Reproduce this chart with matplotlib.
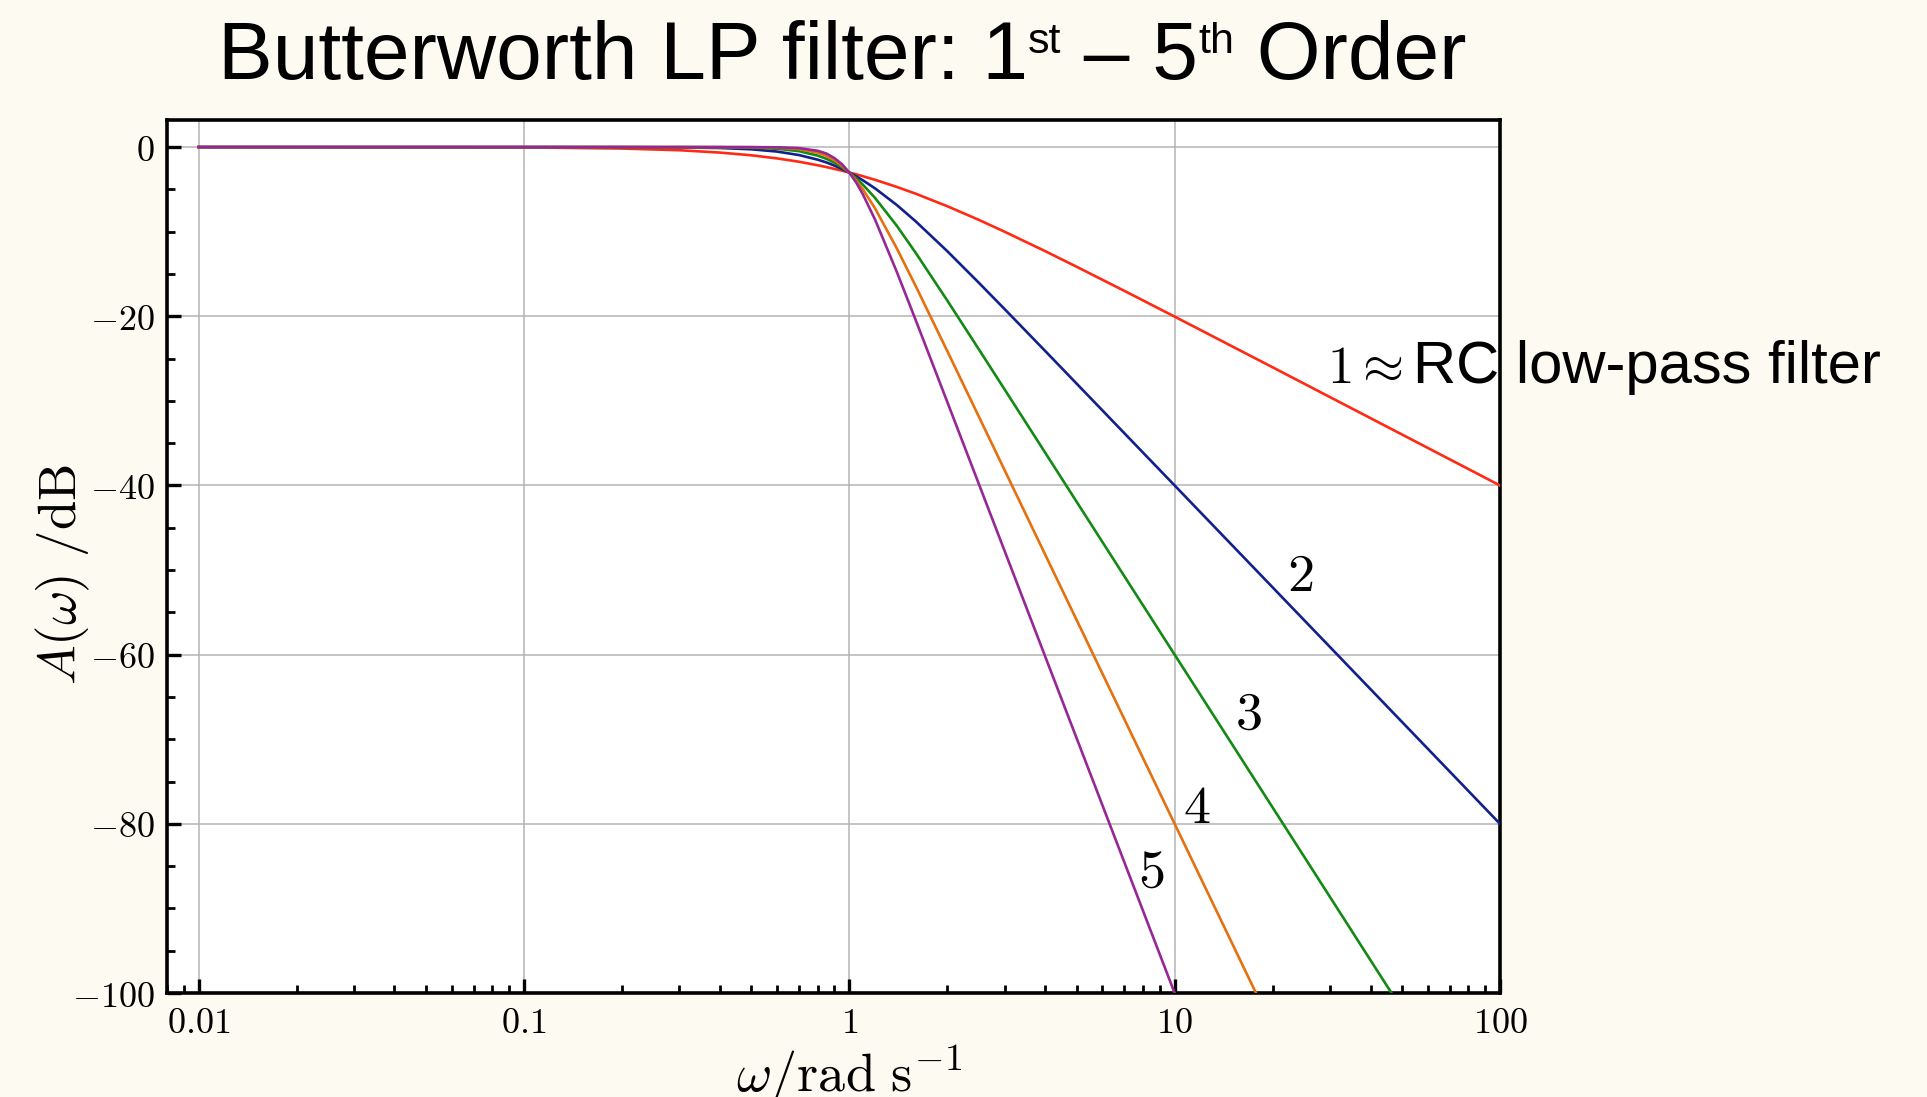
import numpy as np
import matplotlib
matplotlib.use("Agg")
import matplotlib.pyplot as plt
from matplotlib.ticker import FixedLocator, LogLocator, NullFormatter
from matplotlib.transforms import IdentityTransform

plt.rcParams["mathtext.fontset"] = "cm"
plt.rcParams["font.family"] = ["Liberation Sans", "DejaVu Sans"]

BG = "#fdfaf2"
W, H = 1927, 1097

# angular frequency samples (rad/s) and gain in dB for each filter order
omega = [0.01, 0.1, 0.2, 0.3, 0.4, 0.5, 0.6, 0.7, 0.8, 0.85, 0.9, 0.95, 1.0,
         1.05, 1.1, 1.2, 1.4, 1.6, 2.0, 2.5, 3.0, 4.0, 5.0, 7.0, 10.0, 20.0,
         50.0, 100.0]
gain_1 = [0.0, -0.04, -0.17, -0.37, -0.65, -0.97, -1.34, -1.73, -2.15, -2.36,
          -2.58, -2.79, -3.01, -3.22, -3.44, -3.87, -4.71, -5.51, -6.99, -8.60,
          -10.0, -12.30, -14.15, -16.99, -20.04, -26.03, -33.98, -40.0]
gain_2 = [0.0, 0.0, -0.01, -0.04, -0.11, -0.26, -0.53, -0.94, -1.49, -1.81,
          -2.19, -2.59, -3.01, -3.46, -3.92, -4.88, -6.85, -8.78, -12.30, -16.03,
          -19.14, -24.10, -27.97, -33.81, -40.0, -52.04, -67.96, -80.0]
gain_3 = [0.0, 0.0, 0.0, 0.0, -0.02, -0.07, -0.20, -0.48, -1.01, -1.38,
          -1.85, -2.40, -3.01, -3.69, -4.43, -6.01, -9.31, -12.50, -18.13, -23.89,
          -28.63, -36.12, -41.94, -50.71, -60.0, -78.06, -101.94, -120.0]
gain_4 = [0.0, 0.0, 0.0, 0.0, 0.0, -0.02, -0.07, -0.24, -0.67, -1.03,
          -1.56, -2.22, -3.01, -3.94, -4.97, -7.24, -11.98, -16.43, -24.10, -31.84,
          -38.17, -48.17, -55.92, -67.61, -80.0, -104.08, -135.92, -160.0]
gain_5 = [0.0, 0.0, 0.0, 0.0, 0.0, 0.0, -0.03, -0.12, -0.44, -0.76,
          -1.30, -2.03, -3.01, -4.19, -5.56, -8.57, -14.76, -20.45, -30.11, -39.80,
          -47.71, -60.21, -69.90, -84.51, -100.0, -130.1, -169.9, -200.0]

gains = [gain_1, gain_2, gain_3, gain_4, gain_5]
colors = ["#ff2a14", "#12208c", "#138a13", "#e6700e", "#962896"]

# curve annotations: (omega, dB)
order_labels = ["2", "3", "4", "5"]
label_omega = [24.3, 16.9, 11.7, 8.5]
label_db = [-50.8, -67.1, -78.2, -85.8]

y_major = [0, -20, -40, -60, -80, -100]
y_minor = [v for v in range(-100, 4, 5) if v % 20 != 0]
x_major = [0.01, 0.1, 1, 10, 100]
x_tick_text = ["0.01", "0.1", "1", "10", "100"]

fig = plt.figure(figsize=(W / 100, H / 100), dpi=100, facecolor=BG)
ax = fig.add_axes([0.0867, 0.0948, 0.6917, 0.7958])
ax.set_facecolor("white")

for g, c in zip(gains, colors):
    ax.plot(omega, g, color=c, lw=1.9, zorder=3)

ax.set_xscale("log")
ax.set_xlim(0.008, 100)
ax.set_ylim(-100, 3.2)

ax.xaxis.set_major_locator(FixedLocator(x_major))
ax.xaxis.set_minor_locator(LogLocator(base=10, subs=np.arange(2, 10)))
ax.xaxis.set_minor_formatter(NullFormatter())
ax.set_xticklabels([f"${t}$" for t in x_tick_text])
ax.yaxis.set_major_locator(FixedLocator(y_major))
ax.yaxis.set_minor_locator(FixedLocator(y_minor))
ax.set_yticklabels([f"${v}$" for v in y_major])

ax.tick_params(which="both", direction="in", top=False, right=False,
               labelsize=26, colors="black")
ax.tick_params(which="major", length=10, width=2.4, pad=9)
ax.tick_params(which="minor", length=5.5, width=2.0)
for s in ax.spines.values():
    s.set_linewidth(2.6)
    s.set_color("black")
ax.grid(True, which="major", color="#b4b4b4", lw=1.1, zorder=0)

ax.set_xlabel(r"$\omega/\mathrm{rad\ s}^{-1}$", fontsize=39)
ax.set_ylabel(r"$A(\omega)\ /\mathrm{dB}$", fontsize=38)
ax.xaxis.set_label_coords(0.512, -0.058)
ax.yaxis.set_label_coords(-0.056, 0.479)

for t, xo, yd in zip(order_labels, label_omega, label_db):
    ax.text(xo, yd, f"${t}$", fontsize=39, ha="center", va="center")

renderer = fig.canvas.get_renderer()


def text_run(x_left, baseline, parts):
    """Lay out (string, fontsize, raise_px) pieces left to right in pixel space."""
    x = x_left
    for s, size, dy in parts:
        t = fig.text(x, baseline + dy, s, fontsize=size, ha="left",
                     va="baseline", transform=IdentityTransform())
        x += t.get_window_extent(renderer).width
    return x


def run_width(parts):
    total = 0
    for s, size, _ in parts:
        t = fig.text(0, 0, s, fontsize=size, transform=IdentityTransform())
        total += t.get_window_extent(renderer).width
        t.remove()
    return total


# title with small raised ordinal suffixes
title_parts = [("Butterworth LP filter: 1", 59, 0), ("st", 31, 26),
               (" \u2013 5", 59, 0), ("th", 31, 26), (" Order", 59, 0)]
tw = run_width(title_parts)
text_run(842 - tw / 2, H - 79, title_parts)

# label for the first-order curve, running past the right spine
text_run(1327, H - 383, [(r"$1\approx$", 38, 0)])
text_run(1413, H - 383, [("RC low-pass filter", 43, 0)])

fig.savefig("out.png", dpi=100, facecolor=BG)
